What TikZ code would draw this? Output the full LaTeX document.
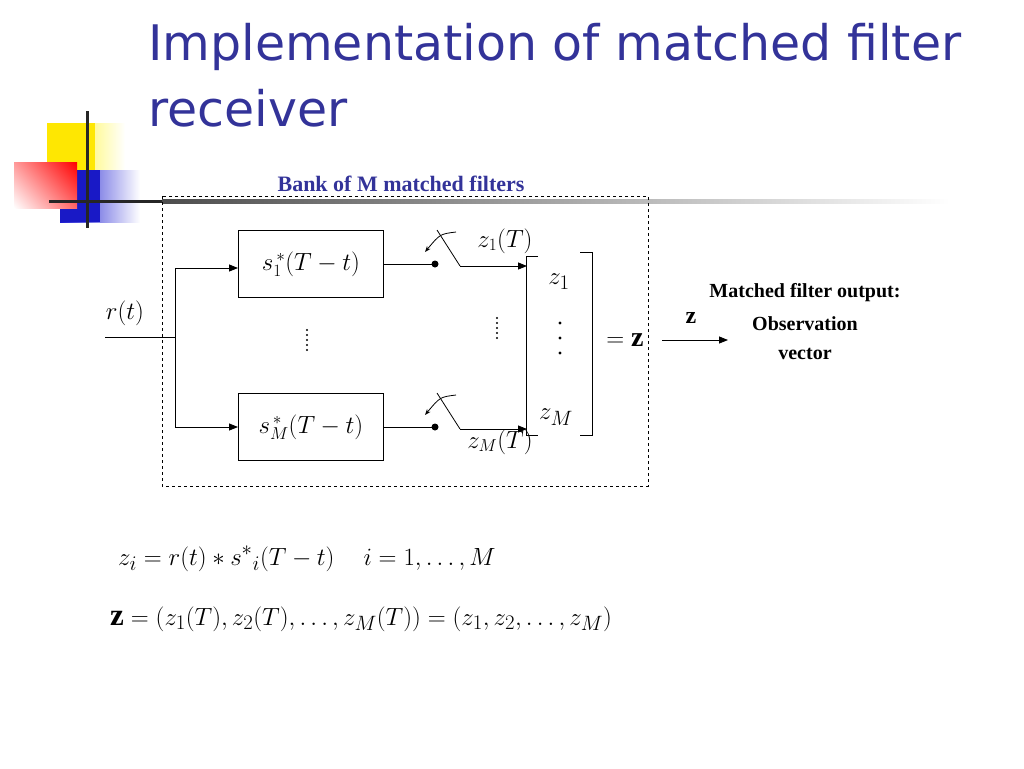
\documentclass[tikz,border=0pt]{standalone}
\usepackage{fontspec}
\setmainfont{Liberation Serif}
\newfontfamily\titlefont{DejaVu Sans}
\usetikzlibrary{arrows.meta,shadings}
\definecolor{tblue}{HTML}{333399}
\begin{document}
\begin{tikzpicture}[x=1pt,y=-1pt,
  fbox/.style={draw,thick,minimum width=145pt,minimum height=67pt,anchor=north west,inner sep=0},
  wire/.style={line width=0.8pt},
  arr/.style={wire,-{Triangle[length=9pt,width=7pt]}},
  lbl/.style={font=\fontsize{24}{26}\selectfont,inner sep=0}]
\useasboundingbox (0,0) rectangle (1024,768);
% logo
\shade[left color=yellow!90!orange,right color=white] (47,123) rectangle (125,195);
\fill[yellow!90!orange] (47,123) rectangle (95,195);
\shade[left color=blue!80!black!90,right color=white] (60,170) rectangle (140,222);
\fill[blue!75!black!90] (60,170) rectangle (100,222);
\shade[upper right=red,lower left=white,upper left=red!40,lower right=red!60] (14,162) rectangle (77,208);
\draw[line width=3pt,black!85] (87,111) -- (87,228);
\draw[line width=3pt,black!85] (49,201) -- (162,201);
\shade[left color=black!70,right color=white] (162,199) rectangle (950,203);
% title
\node[anchor=base west,inner sep=0,text=tblue,font=\titlefont\fontsize{49}{52}\selectfont] (t1) at (148,60) {Implementation of matched filter};
\node[anchor=base west,inner sep=0,text=tblue,font=\titlefont\fontsize{49}{52}\selectfont] (t2) at (148,126) {receiver};
\node[text=tblue,font=\bfseries\fontsize{22}{24}\selectfont] (bank) at (401,184) {Bank of M matched filters};
% dashed frame
\draw[dashed,thick] (162,196) rectangle (648,486);
% boxes
\node[fbox] (b1) at (238,230) {};
\node[fbox] (b2) at (238,393) {};
\node[lbl] at (b1.center) {$s_1^{\,*}(T-t)$};
\node[lbl] at (b2.center) {$s_M^{\,*}(T-t)$};
% input
\coordinate (in) at (105,337);
\coordinate (sp) at (175,337);
\coordinate (st) at (175,268);
\coordinate (sb) at (175,427);
\node[lbl] (rt) at (125,313) {$r(t)$};
\draw[wire] (in) -- (sp);
\draw[wire] (st) -- (sb);
\draw[arr] (st) -- (b1.west|-st);
\draw[arr] (sb) -- (b2.west|-sb);
% switches
\foreach \y/\n in {264/a,427/b}{
  \coordinate (d\n) at (435,\y);
  \fill (d\n) circle (3.5pt);
  \coordinate (bl\n) at (460,\y+2);
  \draw[wire] (437,\y-34) -- (bl\n);
  \draw[wire,-{Stealth[length=6pt]}] (456,\y-32) .. controls (440,\y-30) .. (425,\y-12);
  \draw[arr] (bl\n) -- (527,\y+2);
}
\draw[wire] (b1.east|-da) -- (da);
\draw[wire] (b2.east|-db) -- (db);
\node[lbl] at (505,241) {$z_1(T)$};
\node[lbl] at (500,442) {$z_M(T)$};
% dots
\foreach \yy in {330,335,...,352} \fill (307,\yy) circle (1.1pt);
\foreach \yy in {318,323,...,338} \fill (497,\yy) circle (1.1pt);
\foreach \yy in {323,338,353} \fill (560,\yy) circle (1.6pt);
% brackets
\draw[wire] (538,256) -- (526,256) -- (526,435) -- (538,435);
\draw[wire] (580,252) -- (592,252) -- (592,435) -- (580,435);
\node[lbl,font=\fontsize{30}{32}\selectfont] at (559,282) {$z_1$};
\node[lbl,font=\fontsize{30}{32}\selectfont] at (556,417) {$z_M$};
\node[lbl,font=\fontsize{28}{30}\selectfont] (eqz) at (625,340) {$=\mathbf{z}$};
\coordinate (oe) at (728,340);
\draw[arr] (662,340) -- (oe);
\node[font=\bfseries\fontsize{20}{22}\selectfont] (mo) at (805,293) {Matched filter output:};
\node[font=\bfseries\fontsize{24}{24}\selectfont] (zz) at (691,318) {z};
\node[font=\bfseries\fontsize{20}{22}\selectfont] (ob) at (805,324) {Observation};
\node[font=\bfseries\fontsize{20}{22}\selectfont] (ve) at (805,354) {vector};
% equations
\node[anchor=base west,inner sep=0,font=\fontsize{29}{31}\selectfont] (e1) at (118,565) {$z_i=r(t)\ast s^{*}{}_{i}(T-t)\quad i=1,\ldots,M$};
\node[anchor=base west,inner sep=0,font=\fontsize{31}{33}\selectfont] (e2) at (110,625) {$\mathbf{z}=(z_1(T),z_2(T),\ldots,z_M(T))=(z_1,z_2,\ldots,z_M)$};
\end{tikzpicture}
\end{document}
